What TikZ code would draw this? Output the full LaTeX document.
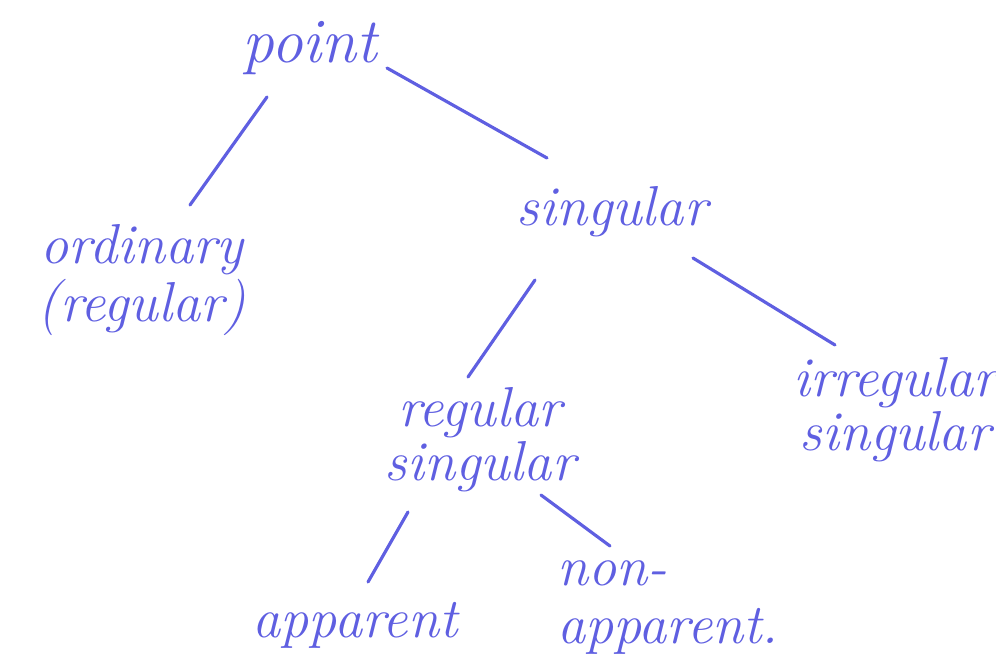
\documentclass[tikz,border=0pt]{standalone}
\usepackage{amsmath}
\usepackage{tikz}
\definecolor{pen}{RGB}{95,95,225}

\begin{document}
\begin{tikzpicture}[x=0.01cm,y=-0.01cm]
        \tikzstyle{every node}+=[inner sep=0pt, text=pen, font=\fontsize{16}{13.5}\selectfont\itshape, align=center]
        \tikzstyle{branch}=[draw=pen, line width=0.9pt, line cap=round]
        \useasboundingbox (0,0) rectangle (996,660);
        \node (point) at (310,48) {\fontsize{18}{13.5}\selectfont point};
        \node (ord) at (142,280) {ordinary\\(regular)};
        \node (sing) at (612,212) {singular};
        \node (regsing) at (480,440) {regular\\singular};
        \node (irrsing) at (895,410) {irregular\\singular};
        \node (app) at (355,625) {apparent};
        \node[align=left] (nonapp) at (668,608) {non-\\[3pt]apparent.};
        \draw [branch] ([shift={(-43,49)}]point.center) -- ([shift={(48,-75)}]ord.center);
        \draw [branch] ([shift={(77,20)}]point.center) -- ([shift={(-65,-54)}]sing.center);
        \draw [branch] ([shift={(-77,68)}]sing.center) -- ([shift={(-12,-63)}]regsing.center);
        \draw [branch] ([shift={(81,46)}]sing.center) -- ([shift={(-60,-65)}]irrsing.center);
        \draw [branch] ([shift={(-72,72)}]regsing.center) -- ([shift={(13,-43)}]app.center);
        \draw [branch] ([shift={(61,55)}]regsing.center) -- ([shift={(-58,-62)}]nonapp.center);
    \end{tikzpicture}
\end{document}
